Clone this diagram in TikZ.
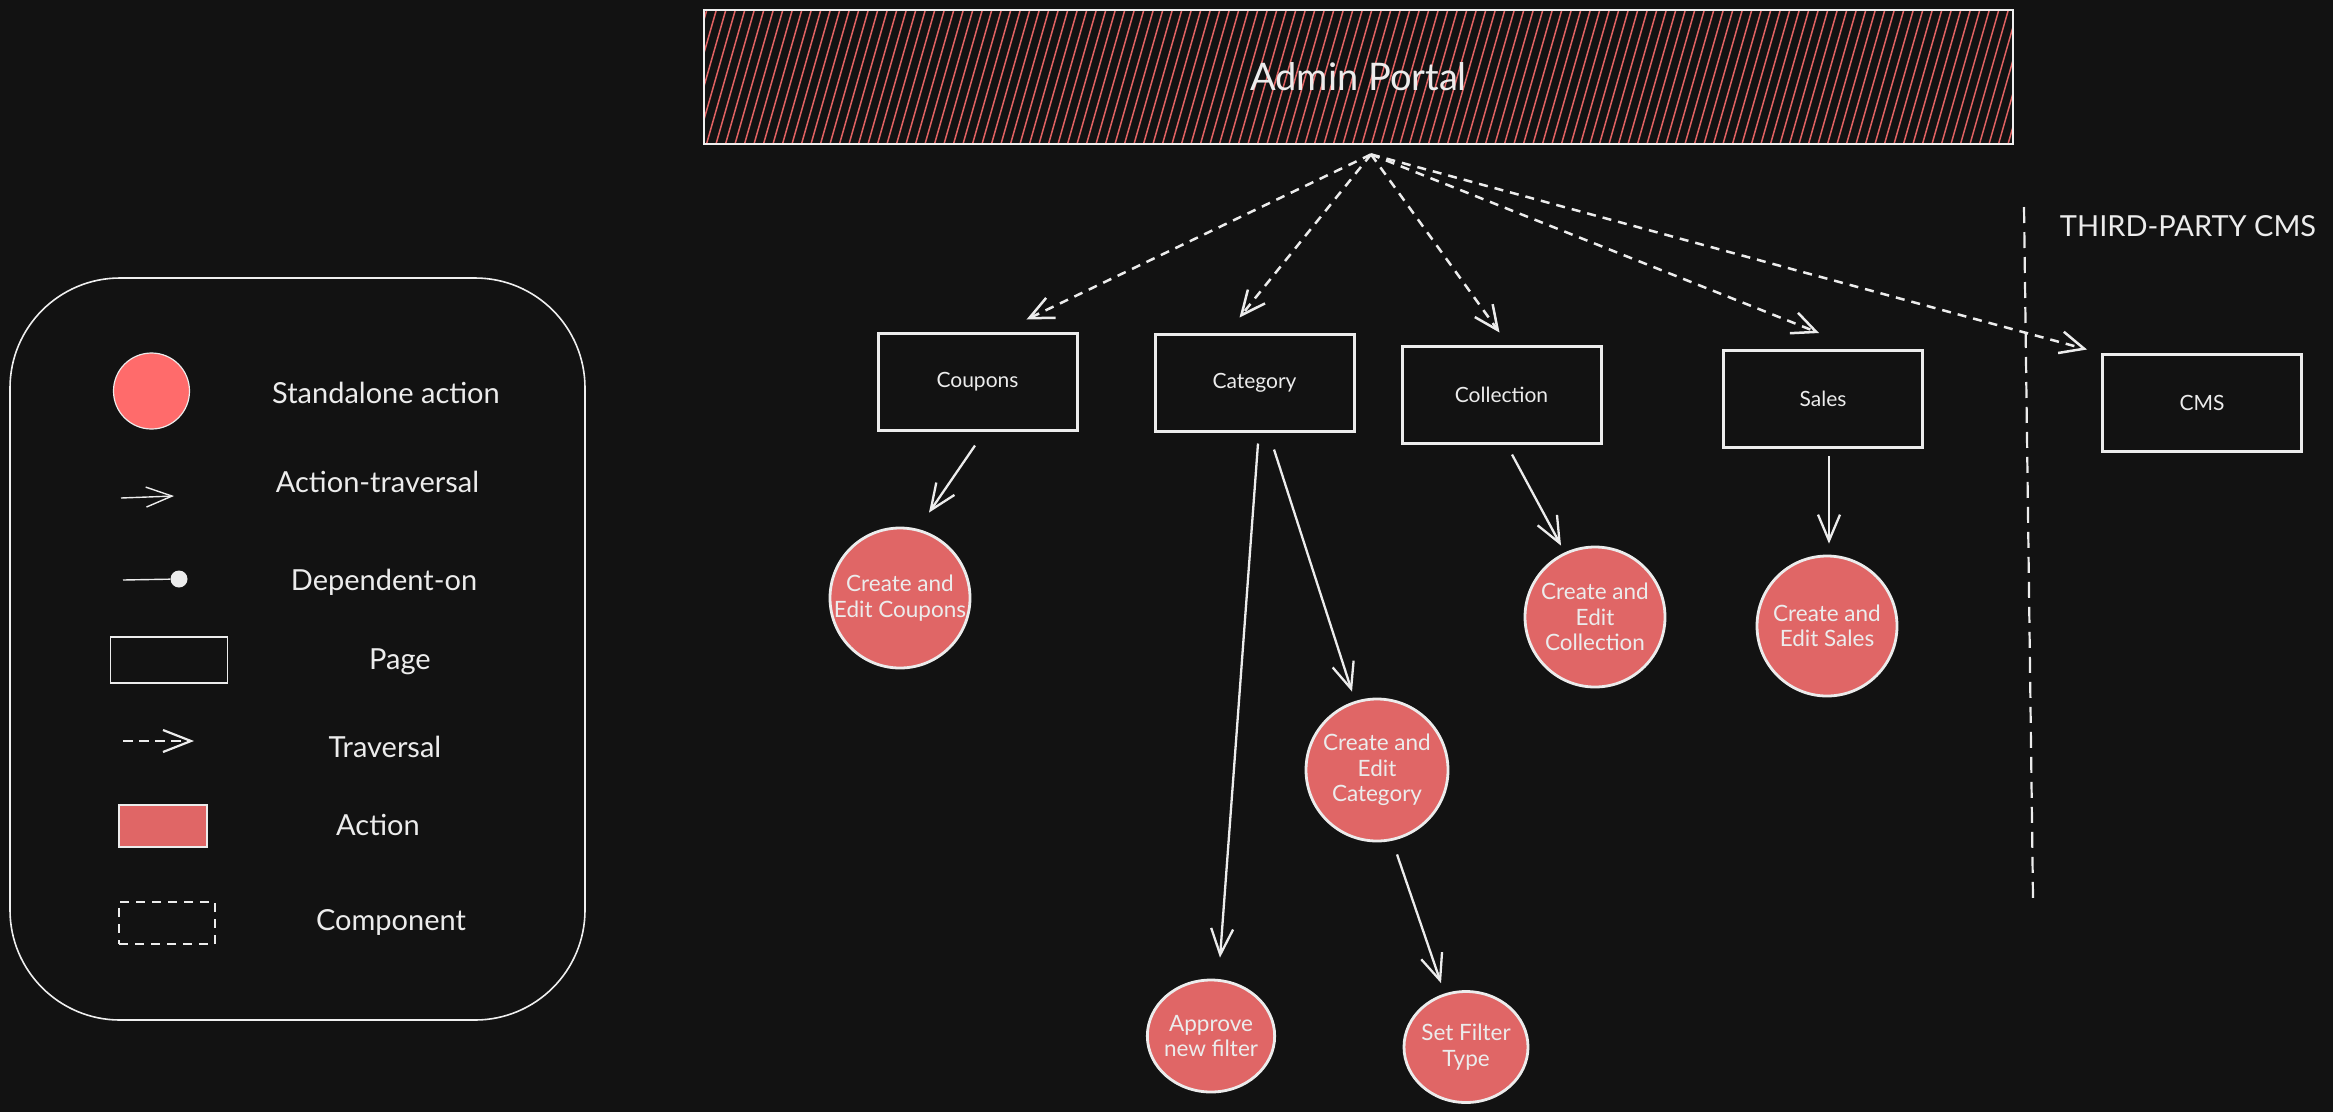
\documentclass[tikz,border=0pt]{standalone}
\usepackage{fontspec}
\setmainfont{Lato}
\usetikzlibrary{arrows.meta,shapes.geometric}
\definecolor{bg}{HTML}{121212}
\definecolor{fg}{HTML}{ECECEC}
\definecolor{actred}{HTML}{E06666}
\definecolor{lightred}{HTML}{FF6B6B}
\definecolor{hatchred}{HTML}{E06262}
\begin{document}
\begin{tikzpicture}[x=1pt,y=-1pt,
  page/.style={draw=fg, line width=3pt, minimum width=199pt, minimum height=97pt, inner sep=0pt, text=fg, font=\fontsize{21}{25}\selectfont},
  actc/.style={circle, draw=fg, fill=actred, line width=2.8pt, minimum size=140pt, inner sep=0pt, align=center, text=fg, font=\fontsize{22.5}{25.5}\selectfont},
  acte/.style={ellipse, draw=fg, fill=actred, line width=2.8pt, inner sep=-2pt, align=center, text=fg, font=\fontsize{22.5}{25.5}\selectfont},
  act/.style={draw=fg, line width=2.3pt, -{Straight Barb[length=26pt,width=22pt]}},
  trav/.style={draw=fg, line width=2.5pt, dash pattern=on 9pt off 7pt, -{Straight Barb[length=24pt,width=22pt]}},
  legtxt/.style={text=fg, font=\fontsize{29}{34}\selectfont},
  hatchline/.style={draw=hatchred, line width=1.5pt}
]
\fill[bg] (0,0) rectangle (2333,1112);
\useasboundingbox (0,0) rectangle (2333,1112);

% ---------- legend ----------
\node[draw=fg!85, line width=1.6pt, rounded corners=110pt, minimum width=575pt, minimum height=742pt, inner sep=0pt] (legend) at (297.5,649) {};
\node[circle, draw=fg, line width=1.2pt, fill=lightred, minimum size=76pt, inner sep=0pt] (lgsa) at (151.5,391) {};
\node[legtxt] (lgsat) at (386,393) {Standalone action};
\coordinate (lgat1) at (121,498);
\coordinate (lgat2) at (174,496);
\draw[fg, line width=1.4pt, -{Straight Barb[length=26pt,width=20pt]}] (lgat1) -- (lgat2);
\node[legtxt] (lgatt) at (377.5,482) {Action-traversal};
\coordinate (lgdo1) at (123,580);
\node[circle, fill=fg, minimum size=17pt, inner sep=0pt] (lgdo2) at (179,579) {};
\draw[fg, line width=1.4pt] (lgdo1) -- (lgdo2);
\node[legtxt] (lgdot) at (384,582) {Dependent-on};
\node[draw=fg, line width=1.6pt, minimum width=117pt, minimum height=46pt, inner sep=0pt] (lgpg) at (169,660) {};
\node[legtxt] (lgpgt) at (400,662) {Page};
\coordinate (lgtr1) at (123,741);
\coordinate (lgtr2) at (194,741);
\draw[fg, line width=2.2pt, dash pattern=on 10pt off 6pt, -{Straight Barb[length=28pt,width=22pt]}] (lgtr1) -- (lgtr2);
\node[legtxt] (lgtrt) at (385,747) {Traversal};
\node[draw=fg, line width=2.2pt, fill=actred, minimum width=88pt, minimum height=42pt, inner sep=0pt] (lgac) at (163,826) {};
\node[legtxt] (lgact) at (378,825) {Action};
\node[draw=fg, line width=2.6pt, dash pattern=on 9pt off 7pt, minimum width=96pt, minimum height=42pt, inner sep=0pt] (lgco) at (167,923) {};
\node[legtxt] (lgcot) at (391,922) {Component};

% ---------- admin portal ----------
\node[draw=fg!85, line width=2.8pt, minimum width=1309pt, minimum height=134pt, inner sep=0pt, text=fg, font=\fontsize{38}{44}\selectfont,
  path picture={
    \foreach \i in {0,...,144}{
      \draw[hatchline] ([xshift={\i*9.5pt-45pt}]path picture bounding box.south west) -- ++(40pt,140pt);
    }
  }] (ap) at (1358.5,77) {Admin Portal};
\coordinate (apo) at ([xshift=12.5pt,yshift=-9pt]ap.south);

% ---------- pages ----------
\node[page] (coupons) at (977.5,381.5) {Coupons};
\node[page] (category) at (1254.5,382.5) {Category};
\node[page] (collection) at (1501.5,394.5) {Collection};
\node[page] (sales) at (1823,399) {Sales};
\node[page] (cms) at (2202,402.5) {CMS};

% ---------- traversal ----------
\draw[trav] (apo) -- ([xshift=49pt,yshift=12pt]coupons.north);
\draw[trav] (apo) -- ([xshift=-15pt,yshift=15pt]category.north);
\draw[trav] (apo) -- ([xshift=-2pt,yshift=12pt]collection.north);
\draw[trav] (apo) -- ([xshift=-4pt,yshift=16pt]sales.north);
\draw[trav] (apo) -- ([xshift=-14pt,yshift=3pt]cms.north west);

% ---------- third-party separator ----------
\coordinate (vd1) at (2024,207);
\coordinate (vd2) at (2033,899);
\draw[fg, line width=2.2pt, dash pattern=on 16pt off 9pt] (vd1) -- (vd2);
\node[text=fg, font=\fontsize{29}{34}\selectfont] (tp) at (2188,226) {THIRD-PARTY CMS};

% ---------- actions ----------
\node[actc] (ccoup) at (900,598) {Create and\\Edit Coupons};
\node[actc] (ccoll) at (1595,617) {Create and\\Edit\\Collection};
\node[actc] (csales) at (1827,626) {Create and\\Edit Sales};
\node[actc, minimum size=142pt] (ccat) at (1377,770) {Create and\\Edit\\Category};
\node[acte, minimum width=125pt, minimum height=112pt] (capp) at (1211,1036) {Approve\\new filter};
\node[acte, minimum width=124pt, minimum height=111pt] (cset) at (1466,1047) {Set Filter\\Type};

\draw[act] ([xshift=-2.5pt,yshift=-14pt]coupons.south) -- ([xshift=29pt,yshift=14pt]ccoup.north);
\draw[act] ([xshift=3.5pt,yshift=-11pt]category.south) -- ([xshift=9pt,yshift=21pt]capp.north);
\draw[act] ([xshift=19.5pt,yshift=-17pt]category.south) -- ([xshift=-25pt,yshift=6pt]ccat.north);
\draw[act] ([xshift=10.5pt,yshift=-10pt]collection.south) -- ([xshift=-34pt]ccoll.north);
\draw[act] ([xshift=6pt,yshift=-7pt]sales.south) -- ([xshift=2pt,yshift=11pt]csales.north);
\draw[act] ([xshift=20pt,yshift=-12pt]ccat.south) -- ([xshift=-25pt,yshift=7pt]cset.north);
\end{tikzpicture}
\end{document}
